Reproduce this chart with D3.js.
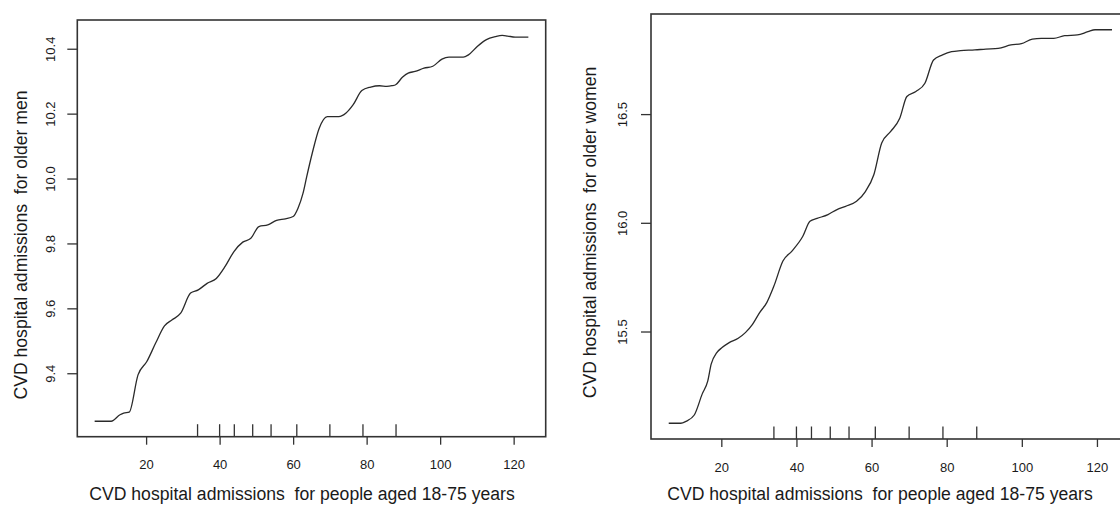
<!DOCTYPE html>
<html>
<head>
<meta charset="utf-8">
<script src="https://cdn.jsdelivr.net/npm/d3@7"></script>
<style>
  body { margin: 0; background: #fff; }
  svg { display: block; font-family: "Liberation Sans", Arial, sans-serif; }
  text { fill: #1a1a1a; white-space: pre; }
</style>
</head>
<body>
<svg width="1120" height="505"></svg>
<script>
// Partial dependence curves
const menX = [6, 10.5, 12.9, 13.9, 15.4, 17.8, 20.2, 22.6, 25, 27, 29.4, 32.1, 34.2, 36.6, 39.1,
  41.5, 43.9, 46.3, 48.5, 50.7, 53.1, 55.5, 57.9, 60, 61.3, 62.7, 63.7, 65.2, 67.1, 69.3, 72.4,
  74.4, 76.3, 78.7, 81.1, 83.5, 85.5, 86.9, 87.9, 89.8, 91.3, 93.2, 95.6, 98, 100.5, 102.4,
  106.3, 107.7, 110.1, 112.6, 115, 116.9, 118.4, 120.4, 124];
const menY = [9.252, 9.252, 9.272, 9.277, 9.280, 9.395, 9.436, 9.493, 9.546, 9.564, 9.585, 9.647,
  9.657, 9.677, 9.692, 9.729, 9.775, 9.804, 9.816, 9.852, 9.857, 9.871, 9.876, 9.883, 9.908,
  9.955, 10.006, 10.078, 10.155, 10.191, 10.191, 10.202, 10.227, 10.271, 10.282, 10.286, 10.284,
  10.286, 10.289, 10.313, 10.325, 10.330, 10.340, 10.346, 10.368, 10.374, 10.374, 10.381, 10.407,
  10.428, 10.437, 10.441, 10.439, 10.436, 10.436];

const womenX = [6, 9.2, 10.6, 12.8, 14.9, 16.4, 17.3, 18.8, 20.2, 22.1, 24.5, 26.4, 28.3, 30.2,
  32.1, 34, 36.4, 38.8, 41.7, 43.6, 45.5, 48.4, 50.8, 53.1, 56, 58.4, 60.6, 62.7, 65.1, 67.5,
  69.4, 71.8, 74.2, 76.5, 78.9, 81.3, 83.7, 87.5, 90.4, 93.7, 97.1, 99.9, 102.8, 105.2, 108.5,
  111.4, 114.8, 117.6, 119.5, 124];
const womenY = [15.078, 15.078, 15.087, 15.116, 15.212, 15.273, 15.350, 15.403, 15.426, 15.449,
  15.469, 15.495, 15.533, 15.587, 15.633, 15.709, 15.824, 15.870, 15.938, 16.007, 16.020, 16.038,
  16.061, 16.076, 16.099, 16.145, 16.221, 16.367, 16.420, 16.481, 16.581, 16.604, 16.642, 16.749,
  16.772, 16.787, 16.792, 16.795, 16.799, 16.802, 16.818, 16.824, 16.845, 16.848, 16.848, 16.861,
  16.864, 16.879, 16.888, 16.888];

// rug (deciles of the predictor)
const rugX = [34, 40, 44, 49, 54, 61, 70, 79, 88];

const xTicks = [20, 40, 60, 80, 100, 120];
const menTicks = [9.4, 9.6, 9.8, 10.0, 10.2, 10.4];
const womenTicks = [15.5, 16.0, 16.5];

const xTitle = "CVD hospital admissions  for people aged 18-75 years";

const panels = [
  { xs: menX, ys: menY, yTicks: menTicks, fmt: ".1f",
    box: { x0: 77.3, x1: 545.7, y0: 20, y1: 436.7 },
    yTitle: "CVD hospital admissions  for older men", yTitleX: 26.5, yTitleY: 245,
    yLabOff: 22.5, xLabOff: 32.3, xTitleX: 302 },
  { xs: womenX, ys: womenY, yTicks: womenTicks, fmt: ".1f",
    box: { x0: 651, x1: 1129.7, y0: 14, y1: 439 },
    yTitle: "CVD hospital admissions  for older women", yTitleX: 596, yTitleY: 232.5,
    yLabOff: 24, xLabOff: 32.7, xTitleX: 880 }
];

const svg = d3.select("svg");

// R style range: data extent stretched by 4% on each side
function padded(ext) {
  const d = (ext[1] - ext[0]) * 0.04;
  return [ext[0] - d, ext[1] + d];
}

panels.forEach(p => {
  const b = p.box;
  const x = d3.scaleLinear().domain(padded(d3.extent(p.xs))).range([b.x0, b.x1]);
  const y = d3.scaleLinear().domain(padded(d3.extent(p.ys))).range([b.y1, b.y0]);
  const pts = p.xs.map((v, i) => [v, p.ys[i]]);

  const g = svg.append("g");

  // x axis
  const xa = g.append("g")
    .attr("transform", `translate(0,${b.y1})`)
    .call(d3.axisBottom(x).tickValues(xTicks).tickSize(8).tickSizeOuter(0));
  xa.select(".domain").remove();
  xa.selectAll(".tick line").attr("stroke", "#333").attr("stroke-width", 1.3);
  xa.selectAll(".tick text")
    .attr("y", p.xLabOff).attr("dy", null)
    .style("font-size", "13px").style("font-family", "Liberation Sans, Arial, sans-serif")
    .attr("fill", "#1a1a1a");

  // y axis, labels rotated like R (las = 0)
  const ya = g.append("g")
    .attr("transform", `translate(${b.x0},0)`)
    .call(d3.axisLeft(y).tickValues(p.yTicks).tickFormat(d3.format(p.fmt)).tickSize(10).tickSizeOuter(0));
  ya.select(".domain").remove();
  ya.selectAll(".tick line").attr("stroke", "#333").attr("stroke-width", 1.3);
  ya.selectAll(".tick text")
    .attr("x", null).attr("dy", null)
    .attr("text-anchor", "middle")
    .attr("transform", `translate(${-p.yLabOff},0) rotate(-90)`)
    .style("font-size", "13px").style("font-family", "Liberation Sans, Arial, sans-serif")
    .attr("fill", "#1a1a1a");

  // rug
  g.selectAll(".rug")
    .data(rugX)
    .enter()
    .append("line")
    .attr("x1", d => x(d)).attr("x2", d => x(d))
    .attr("y1", b.y1).attr("y2", b.y1 - 12.5)
    .attr("stroke", "#333").attr("stroke-width", 1.3);

  // curve
  g.append("path")
    .datum(pts)
    .attr("fill", "none")
    .attr("stroke", "#2a2a2a")
    .attr("stroke-width", 1.3)
    .attr("d", d3.line().x(d => x(d[0])).y(d => y(d[1])).curve(d3.curveMonotoneX));

  // plot box
  g.append("rect")
    .attr("x", b.x0).attr("y", b.y0)
    .attr("width", b.x1 - b.x0).attr("height", b.y1 - b.y0)
    .attr("fill", "none").attr("stroke", "#333").attr("stroke-width", 1.6);

  // titles
  g.append("text")
    .attr("x", p.xTitleX).attr("y", 500)
    .attr("text-anchor", "middle")
    .style("font-size", "17.6px")
    .text(xTitle);

  g.append("text")
    .attr("transform", `translate(${p.yTitleX},${p.yTitleY}) rotate(-90)`)
    .attr("text-anchor", "middle")
    .style("font-size", "17.6px")
    .text(p.yTitle);
});
</script>
</body>
</html>
